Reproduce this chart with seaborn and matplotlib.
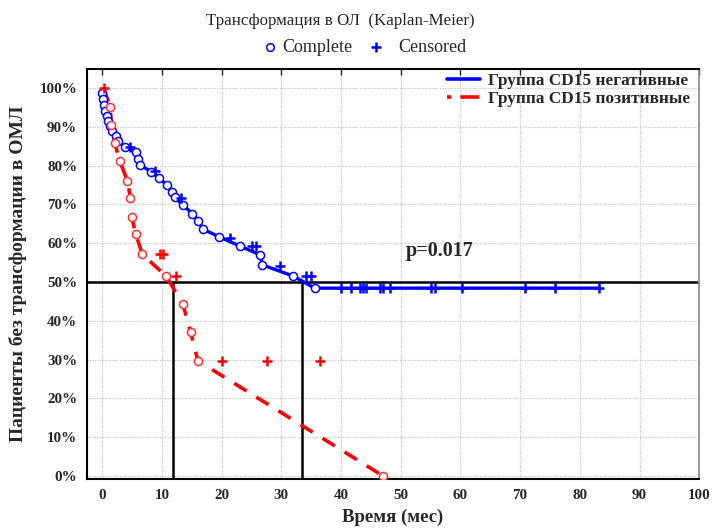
import matplotlib
matplotlib.use("Agg")
import matplotlib.pyplot as plt
import seaborn as sns
import pandas as pd
from matplotlib.lines import Line2D
from matplotlib.ticker import FuncFormatter

# ---- data ----
neg_event_t = [0.0, 0.1, 0.35, 0.5, 0.8, 1.0, 1.2, 1.6, 2.2, 2.7, 3.8, 5.7, 6.0, 6.3,
               8.2, 9.5, 10.8, 11.6, 12.1, 13.5, 15.1, 16.1, 16.9, 19.6, 23.0, 26.4,
               26.8, 32.0, 35.6]
neg_event_s = [98.6, 97.1, 95.6, 94.2, 92.8, 91.5, 90.2, 88.9, 87.6, 86.4, 84.9, 83.4,
               81.8, 80.2, 78.4, 76.8, 75.0, 73.3, 71.8, 69.8, 67.6, 65.6, 63.6, 61.6,
               59.3, 57.0, 54.4, 51.5, 48.4]
neg_cens_t = [4.6, 8.8, 13.1, 21.4, 25.0, 25.7, 29.7, 34.2, 35.0, 40.0, 41.7, 43.1,
              43.7, 44.1, 46.5, 47.0, 48.2, 55.1, 55.7, 60.2, 70.8, 75.8, 83.2]
neg_cens_s = [84.7, 78.6, 71.6, 61.3, 59.3, 59.3, 54.2, 51.6, 51.6, 48.4, 48.4, 48.4,
              48.4, 48.4, 48.4, 48.4, 48.4, 48.4, 48.4, 48.4, 48.4, 48.4, 48.4]

pos_event_t = [1.3, 1.5, 2.1, 2.9, 4.2, 4.7, 4.9, 5.6, 6.7, 10.7, 13.5, 14.8, 16.0, 47.0]
pos_event_s = [95.2, 90.5, 85.7, 81.2, 76.1, 71.6, 66.8, 62.3, 57.1, 51.5, 44.2, 37.0,
               29.7, 0.0]
pos_cens_t = [0.2, 9.6, 10.2, 12.4, 20.0, 27.6, 36.5]
pos_cens_s = [100.0, 57.2, 57.2, 51.5, 29.7, 29.7, 29.7]

median_neg = 33.4
median_pos = 11.9
p_text = "p=0.017"
x_ticks = [0, 10, 20, 30, 40, 50, 60, 70, 80, 90, 100]
y_ticks = [0, 10, 20, 30, 40, 50, 60, 70, 80, 90, 100]

label_neg = "Группа CD15 негативные"
label_pos = "Группа CD15 позитивные"

# ---- build tables ----
neg_line = pd.DataFrame({"t": neg_event_t + [neg_cens_t[-1]],
                         "s": neg_event_s + [neg_cens_s[-1]]})
pos_line = pd.DataFrame({"t": [pos_cens_t[0]] + pos_event_t,
                         "s": [pos_cens_s[0]] + pos_event_s})
neg_ev = pd.DataFrame({"t": neg_event_t, "s": neg_event_s})
pos_ev = pd.DataFrame({"t": pos_event_t, "s": pos_event_s})
neg_c = pd.DataFrame({"t": neg_cens_t, "s": neg_cens_s})
pos_c = pd.DataFrame({"t": pos_cens_t, "s": pos_cens_s})

sns.set_style("white")
plt.rcParams["font.family"] = ["Liberation Serif", "DejaVu Serif"]

fig = plt.figure(figsize=(7.12, 5.31), dpi=100)
ax = fig.add_axes([0.122, 0.098, 0.86, 0.772])

BLUE = "#0000FF"
RED = "#FF0000"

ax.grid(True, color="#c8c8c8", linestyle=(0, (1, 1)), linewidth=0.9)
ax.set_axisbelow(True)

sns.lineplot(data=neg_line, x="t", y="s", sort=False, color=BLUE, linewidth=2.4,
             ax=ax, zorder=3, legend=False)
sns.lineplot(data=pos_line, x="t", y="s", sort=False, color=RED, linewidth=2.6,
             ax=ax, zorder=3, legend=False)
ax.lines[-1].set_dashes((4, 3.2))

# reference lines
ax.axhline(50, color="black", linewidth=1.8, zorder=2)
ax.vlines([median_pos, median_neg], -0.8, 50, color="black", linewidth=1.8, zorder=2)

sns.scatterplot(data=neg_ev, x="t", y="s", marker="o", s=34, facecolor="white",
                edgecolor=BLUE, linewidth=1.1, ax=ax, zorder=4)
sns.scatterplot(data=pos_ev, x="t", y="s", marker="o", s=34, facecolor="white",
                edgecolor="#ff3030", linewidth=1.1, ax=ax, zorder=4)
sns.scatterplot(data=neg_c, x="t", y="s", marker="+", s=55, color=BLUE,
                linewidth=1.8, ax=ax, zorder=5)
sns.scatterplot(data=pos_c, x="t", y="s", marker="+", s=55, color=RED,
                linewidth=1.8, ax=ax, zorder=5)

ax.set_xlim(-2.6, 100)
ax.set_ylim(-0.8, 104.9)
ax.set_xticks(x_ticks)
ax.set_yticks(y_ticks)
ax.yaxis.set_major_formatter(FuncFormatter(lambda v, p: f"{int(v)}%"))
ax.tick_params(axis="both", direction="in", length=4, width=1, labelsize=10.8,
               top=True, right=False, pad=7)
for lab in ax.get_xticklabels() + ax.get_yticklabels():
    lab.set_fontweight("bold")

for side in ["left", "bottom", "top"]:
    ax.spines[side].set_color("black")
    ax.spines[side].set_linewidth(1.5)
ax.spines["right"].set_color("#888888")
ax.spines["right"].set_linewidth(1.2)

ax.set_xlabel("Время (мес)", fontsize=13.5, fontweight="bold", labelpad=5)
ax.set_ylabel("Пациенты без трансформации в ОМЛ", fontsize=14, fontweight="bold",
              labelpad=9)

ax.text(50.9, 58, p_text, fontsize=14.5, fontweight="bold", va="center", ha="left")

handles = [Line2D([0], [0], color=BLUE, linewidth=2.6),
           Line2D([0], [0], color=RED, linewidth=2.6, dashes=(1.2, 2.5, 4, 0))]
leg = ax.legend(handles, [label_neg, label_pos], loc="upper right", frameon=False,
                prop={"weight": "bold", "size": 12.4}, handlelength=1.9,
                bbox_to_anchor=(1.0, 1.012), borderaxespad=0.1,
                labelspacing=0.12, handletextpad=0.5)

fig.text(0.478, 0.960, "Трансформация в ОЛ  (Kaplan-Meier)", ha="center",
         va="center", fontsize=12.2)
fig.add_artist(Line2D([0.379], [0.911], marker="o", markersize=5.5,
                      markerfacecolor="white", markeredgecolor=BLUE,
                      markeredgewidth=1.1, linestyle="none",
                      transform=fig.transFigure))
fig.text(0.396, 0.911, "Complete", ha="left", va="center", fontsize=13)
fig.add_artist(Line2D([0.528], [0.911], marker="+", markersize=7,
                      color=BLUE, markeredgewidth=1.8, linestyle="none",
                      transform=fig.transFigure))
fig.text(0.559, 0.911, "Censored", ha="left", va="center", fontsize=13)

fig.savefig("out.png", dpi=100)
